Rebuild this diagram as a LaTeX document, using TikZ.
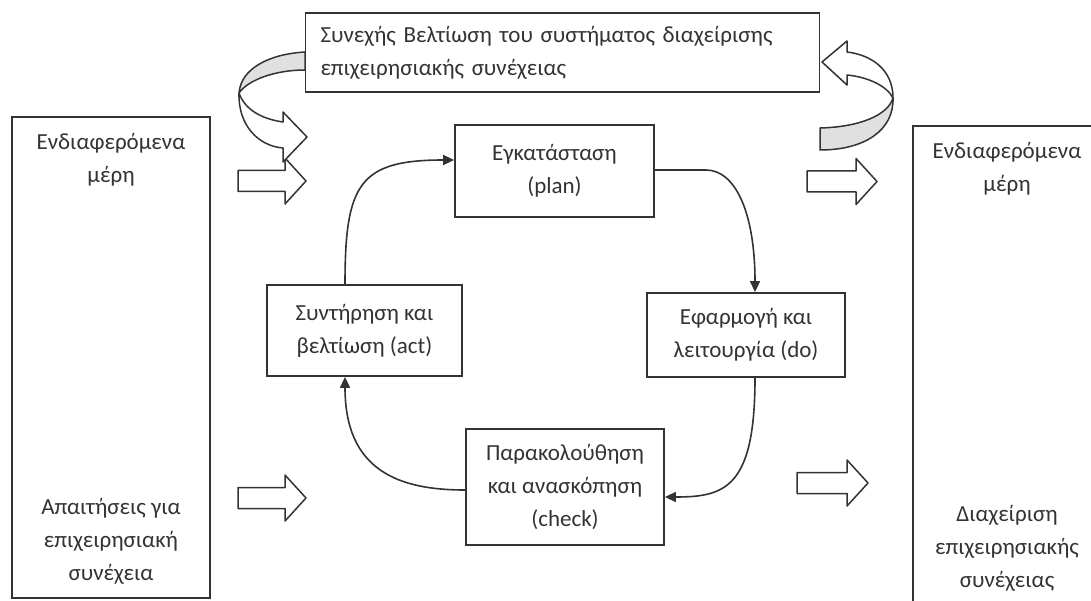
\documentclass[tikz,border=0pt]{standalone}
\usepackage{fontspec}
\setmainfont{Carlito}
\usetikzlibrary{arrows.meta,calc}
\definecolor{ink}{HTML}{333333}
\definecolor{bandgray}{HTML}{E0E0E0}
\tikzset{
  pics/blockarrow/.style={code={
    \draw[ribbon, fill=white] (0,-10.5) -- (#1-21,-10.5) -- (#1-21,-23) -- (#1,0) -- (#1-21,23) -- (#1-21,10.5) -- (0,10.5) -- cycle;}},
  pics/blockarrow/.default=68
}
\begin{document}
\begin{tikzpicture}[x=1pt,y=-1pt,
  txt/.style={text=ink, align=center, inner sep=0pt, font=\fontsize{23}{33}\selectfont},
  box/.style={txt, draw=ink, line width=1.8pt},
  flow/.style={draw=ink, line width=1.6pt, -{Triangle[length=11pt,width=10pt]}},
  ribbon/.style={draw=ink, line width=1.5pt, line join=round}
]
\useasboundingbox (0,0) rectangle (1091,601);
\clip (0,0) rectangle (1091,601);
\fill[white] (0,0) rectangle (1091,601);

% top box
\node[box, minimum width=514pt, minimum height=79pt, text width=484pt, align=left] (cont) at (562.5,52.5)
  {Συνεχής Βελτίωση του συστήματος διαχείρισης\\επιχειρησιακής συνέχειας};

% left and right tall boxes
\node[box, minimum width=198pt, minimum height=481pt] (inbox) at (111,357.5) {};
\node[txt] (instake) at (111,160) {Ενδιαφερόμενα\\μέρη};
\node[txt] (inreq) at (111,541) {Απαιτήσεις για\\επιχειρησιακή\\συνέχεια};

\node[box, minimum width=200pt, minimum height=500pt, anchor=north west] (outbox) at (912,125) {};
\node[txt] (outstake) at (1007,169) {Ενδιαφερόμενα\\μέρη};
\node[txt] (outbcm) at (1007,548) {Διαχείριση\\επιχειρησιακής\\συνέχειας};

% PDCA boxes
\node[box, minimum width=199pt, minimum height=92pt] (plan) at (554.5,171) {Εγκατάσταση\\(plan)};
\node[box, minimum width=195pt, minimum height=91pt] (act) at (364.5,330.5) {Συντήρηση και\\βελτίωση (act)};
\node[box, minimum width=198pt, minimum height=84pt] (do) at (746,335) {Εφαρμογή και\\λειτουργία (do)};
\node[box, minimum width=198pt, minimum height=116pt] (check) at (565,487) {Παρακολούθηση\\και ανασκόπηση\\(check)};

% cycle connectors
\draw[flow] ([xshift=-19.5pt]act.north) .. controls +(0,-100) and +(-95,0) .. ([yshift=11pt]plan.west);
\draw[flow] ([yshift=1pt]plan.east) -- +(51,0) .. controls +(30,0) and +(0,-78) .. ([xshift=9pt]do.north);
\draw[flow] ([xshift=9pt]do.south) .. controls +(0,110) and +(60,0) .. ([yshift=-10pt]check.east);
\draw[flow] ([yshift=-3pt]check.west) .. controls +(-66,0) and +(0,94) .. ([xshift=-19.5pt]act.south);

% block arrows
\pic at (238,181) {blockarrow};
\pic at (238,498) {blockarrow};
\pic at (807,181.5) {blockarrow=70};
\pic at (797,483) {blockarrow=71};

% left curved arrow
\path[ribbon, fill=bandgray] (305,52) .. controls (270,54) and (241,68) .. (239,93)
  .. controls (248,80) and (275,70) .. (305,70) -- cycle;
\path[ribbon, fill=white] (239,93) .. controls (238,125) and (258,146) .. (283,148)
  -- (283,162) -- (307,137) -- (283,112) -- (283,122)
  .. controls (262,119) and (245,110) .. (239,93) -- cycle;

% right curved arrow
\path[ribbon, fill=bandgray] (820,128) .. controls (860,127) and (888,115) .. (893,98)
  .. controls (894,130) and (865,150) .. (820,150) -- cycle;
\path[ribbon, fill=white] (893,98) .. controls (893,70) and (872,55) .. (847,52)
  -- (847,41) -- (822,62) -- (847,85) -- (847,75)
  .. controls (868,77) and (887,86) .. (893,98) -- cycle;
\end{tikzpicture}
\end{document}
